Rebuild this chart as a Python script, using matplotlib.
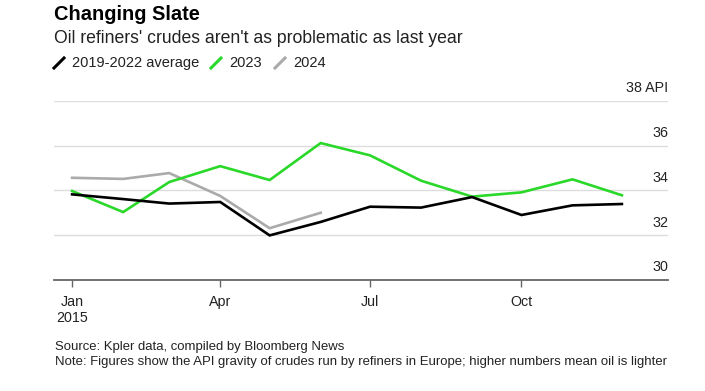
import matplotlib
matplotlib.use('Agg')
import matplotlib.pyplot as plt
import matplotlib.transforms as mtransforms
from matplotlib.lines import Line2D
import pandas as pd

plt.rcParams['font.family'] = ['Liberation Sans', 'DejaVu Sans']

months = pd.date_range('2015-01-01', periods=12, freq='MS')
avg_2019_2022 = [33.82, 33.61, 33.41, 33.48, 31.99, 32.59, 33.27, 33.23, 33.70, 32.90, 33.33, 33.39]
y2023 = [33.97, 33.03, 34.37, 35.08, 34.46, 36.11, 35.56, 34.43, 33.72, 33.91, 34.49, 33.78]
y2024 = [34.56, 34.51, 34.77, 33.75, 32.31, 33.00]

series_names = ['2019-2022 average', '2023', '2024']
colors = ['#000000', '#2ad82a', '#aaaaaa']
ytick_vals = [30, 32, 34, 36, 38]
ytick_labels = ['30', '32', '34', '36', '38 API']
xtick_dates = pd.to_datetime(['2015-01-01', '2015-04-01', '2015-07-01', '2015-10-01'])
xtick_labels = ['Jan\n2015', 'Apr', 'Jul', 'Oct']

fig = plt.figure(figsize=(7.05, 3.91), dpi=100)
ax = fig.add_axes([0.0766, 0.2839, 0.8709, 0.4586])

ax.plot(months, avg_2019_2022, color=colors[0], lw=1.9, solid_joinstyle='miter', zorder=3)
ax.plot(months, y2023, color=colors[1], lw=1.9, solid_joinstyle='miter', zorder=2)
ax.plot(months[:len(y2024)], y2024, color=colors[2], lw=1.9, solid_joinstyle='miter', zorder=1)

ax.set_ylim(30, 38)
ax.set_xlim(pd.Timestamp('2014-12-21'), pd.Timestamp('2015-12-29'))

for s in ['top', 'right', 'left']:
    ax.spines[s].set_visible(False)
ax.spines['bottom'].set_color('#666666')
ax.spines['bottom'].set_linewidth(1.3)

ax.set_yticks(ytick_vals)
ax.set_yticklabels([])
ax.tick_params(axis='y', length=0)
ax.grid(axis='y', color='#dddddd', lw=1.0)
ax.set_axisbelow(True)

off = mtransforms.offset_copy(ax.get_yaxis_transform(), fig=fig, x=0, y=4, units='points')
for v, lab in zip(ytick_vals, ytick_labels):
    ax.text(1.0, v, lab, transform=off, ha='right', va='bottom', fontsize=10.3, color='#222222')

ax.set_xticks(xtick_dates)
ax.set_xticklabels(xtick_labels, fontsize=10.3, color='#222222', linespacing=1.2)
ax.tick_params(axis='x', length=5, color='#666666', width=1.0, pad=6)

fig.text(0.0766, 0.964, 'Changing Slate', fontsize=14.4, fontweight='bold', va='center', ha='left')
fig.text(0.0766, 0.902, "Oil refiners' crudes aren't as problematic as last year", fontsize=12.7, va='center', ha='left', color='#222222')

# legend
ly = 1 - 63 / 391
xs = [54, 211, 275]
for x0, name, c in zip(xs, series_names, colors):
    fig.add_artist(Line2D([x0 / 705, (x0 + 10) / 705], [ly - 5 / 391, ly + 5 / 391], color=c, lw=2.2, transform=fig.transFigure))
    fig.text((x0 + 18) / 705, ly, name, fontsize=10.5, va='center', ha='left', color='#222222')

fig.text(0.078, 1 - 347 / 391, 'Source: Kpler data, compiled by Bloomberg News', fontsize=9.45, va='center', ha='left', color='#222222')
fig.text(0.078, 1 - 362 / 391, 'Note: Figures show the API gravity of crudes run by refiners in Europe; higher numbers mean oil is lighter',
         fontsize=9.45, va='center', ha='left', color='#222222')

fig.savefig('out.png', dpi=100, facecolor='white')
